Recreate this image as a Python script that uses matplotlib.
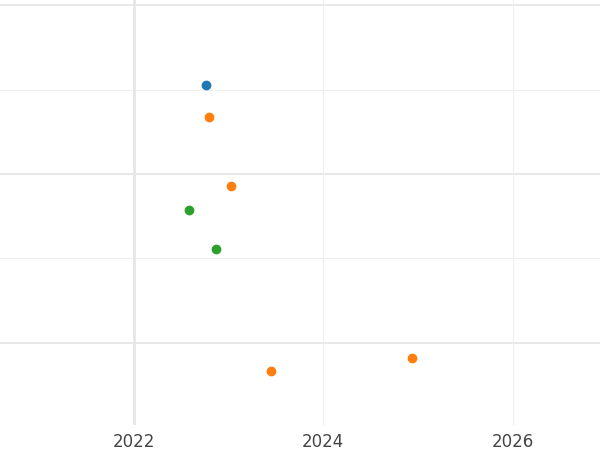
import matplotlib.pyplot as plt

# decimal years and values
blue_x = [2022.76]
blue_y = [3.05]
orange_x = [2022.79, 2023.03, 2023.45, 2024.94]
orange_y = [2.67, 1.86, -0.33, -0.18]
green_x = [2022.58, 2022.87]
green_y = [1.57, 1.11]
x_ticks = [2022, 2024, 2026]

fig = plt.figure(figsize=(6, 4.5), dpi=100)
ax = fig.add_axes([0, 0.056, 1, 0.944])

for y in [0, 2, 4]:
    ax.axhline(y, color="#e6e6e6", lw=1.3, zorder=0)
for y in [1, 3]:
    ax.axhline(y, color="#efefef", lw=0.8, zorder=0)
ax.axvline(2022, color="#e6e6e6", lw=2, zorder=0)
for x in [2024, 2026]:
    ax.axvline(x, color="#efefef", lw=0.8, zorder=0)

ax.scatter(blue_x, blue_y, color="#1f77b4", s=36, zorder=3)
ax.scatter(orange_x, orange_y, color="#ff7f0e", s=36, zorder=3)
ax.scatter(green_x, green_y, color="#2ca02c", s=36, zorder=3)

ax.set_xlim(2020.59, 2026.92)
ax.set_ylim(-0.97, 4.06)
ax.set_xticks(x_ticks)
ax.set_xticklabels([str(t) for t in x_ticks], fontsize=12, color="#444444")
ax.set_yticks([])
ax.tick_params(axis="x", length=0, pad=6)
for s in ax.spines.values():
    s.set_visible(False)

fig.savefig("out.png")
